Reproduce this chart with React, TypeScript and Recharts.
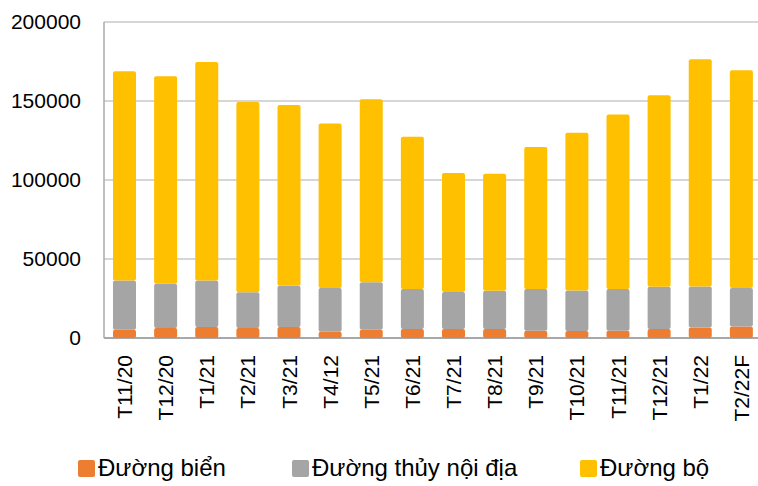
import React from 'react';
import { BarChart, Bar, XAxis, YAxis, CartesianGrid, Legend } from 'recharts';

const categories = ['T11/20', 'T12/20', 'T1/21', 'T2/21', 'T3/21', 'T4/12', 'T5/21', 'T6/21', 'T7/21', 'T8/21', 'T9/21', 'T10/21', 'T11/21', 'T12/21', 'T1/22', 'T2/22F'];
const seaValues = [5200, 6300, 7000, 6300, 7000, 4000, 5200, 5700, 5700, 5700, 4600, 4400, 4600, 5700, 6700, 7300];
const inlandValues = [31200, 28000, 29400, 22700, 26100, 27600, 30100, 25300, 23400, 24200, 26400, 25700, 26400, 26700, 25900, 24300];
const roadValues = [132500, 131400, 138300, 120400, 114300, 104200, 115800, 96400, 75400, 74100, 89900, 99800, 110500, 121300, 143800, 137900];
const yTicks = [0, 50000, 100000, 150000, 200000];
const seriesNames = ['Đường biển', 'Đường thủy nội địa', 'Đường bộ'];
const seriesColors = ['#ED7D31', '#A5A5A5', '#FFC000'];

const data = categories.map((c, i) => ({
  name: c,
  sea: seaValues[i],
  inland: inlandValues[i],
  road: roadValues[i],
}));

const FONT = '"Liberation Sans", Arial, sans-serif';

const XTick = (props: any) => {
  const { x, y, payload } = props;
  return (
    <text
      x={x}
      y={y + 15}
      transform={`rotate(-90, ${x}, ${y + 15})`}
      textAnchor="end"
      dy="0.36em"
      fontFamily={FONT}
      fontSize={21}
      fill="#000"
    >
      {payload.value}
    </text>
  );
};

const legendLefts = [78, 292, 580];

const LegendContent = () => (
  <div style={{ position: 'relative', width: 758, height: 36 }}>
    {seriesNames.map((n, i) => (
      <div
        key={n}
        style={{
          position: 'absolute',
          left: legendLefts[i],
          top: 0,
          height: 36,
          display: 'flex',
          alignItems: 'center',
          whiteSpace: 'nowrap',
        }}
      >
        <span
          style={{
            display: 'inline-block',
            width: 17,
            height: 17,
            background: seriesColors[i],
            borderRadius: 2,
            marginRight: 3,
          }}
        />
        <span style={{ fontFamily: FONT, fontSize: 24, color: '#000', lineHeight: '36px' }}>{n}</span>
      </div>
    ))}
  </div>
);

export default function App() {
  return (
    <div style={{ position: 'absolute', left: 0, top: 0, width: 758, height: 486, overflow: 'hidden', background: '#fff' }}>
      <BarChart
        width={762}
        height={486}
        data={data}
        margin={{ top: 22, right: 0, left: 0, bottom: 0 }}
      >
        <CartesianGrid vertical={false} stroke="#c8c8c8" strokeWidth={1.5} />
        <XAxis
          dataKey="name"
          height={112}
          interval={0}
          tickLine={false}
          tickSize={0}
          tick={<XTick />}
          axisLine={{ stroke: '#999', strokeWidth: 1.5 }}
        />
        <YAxis
          width={104}
          domain={[0, 200000]}
          ticks={yTicks}
          tickLine={false}
          tickSize={0}
          tickMargin={23}
          axisLine={{ stroke: '#aaa', strokeWidth: 1.5 }}
          tick={{ fontFamily: FONT, fontSize: 21, fill: '#000' }}
        />
        <Legend verticalAlign="bottom" content={<LegendContent />} wrapperStyle={{ left: 0, width: 758 }} />
        <Bar dataKey="sea" name={seriesNames[0]} stackId="a" fill={seriesColors[0]} barSize={23} radius={2} isAnimationActive={false} />
        <Bar dataKey="inland" name={seriesNames[1]} stackId="a" fill={seriesColors[1]} barSize={23} radius={2} isAnimationActive={false} />
        <Bar dataKey="road" name={seriesNames[2]} stackId="a" fill={seriesColors[2]} barSize={23} radius={2} isAnimationActive={false} />
      </BarChart>
    </div>
  );
}
